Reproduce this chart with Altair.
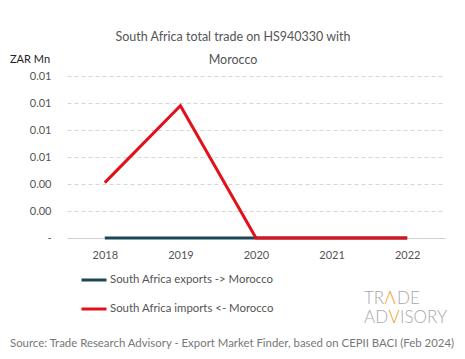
import altair as alt
import pandas as pd

years = ["2018", "2019", "2020", "2021", "2022"]
exports = [0, 0, 0, 0, 0]
imports = [0.0041, 0.0098, 0, 0, 0]
series_names = ["South Africa exports -> Morocco", "South Africa imports <- Morocco"]
colors = ["#1d4659", "#e3101b"]
y_ticks = [0, 0.002, 0.004, 0.006, 0.008, 0.010, 0.012]

rows = []
for y, e, i in zip(years, exports, imports):
    rows.append({"year": y, "series": series_names[0], "value": e, "order": 0})
    rows.append({"year": y, "series": series_names[1], "value": i, "order": 1})
df = pd.DataFrame(rows)

FONT = "Lato"
one = pd.DataFrame({"a": [0]})

lines = alt.Chart(df).mark_line(strokeWidth=3).encode(
    x=alt.X("year:N", sort=years, title=None,
            scale=alt.Scale(type="point", padding=0.5),
            axis=alt.Axis(labelAngle=0, ticks=False, domain=True, domainColor="#d0d0d0",
                          grid=False, labelPadding=11, labelFontSize=11,
                          labelColor="#555555", labelFont=FONT)),
    y=alt.Y("value:Q", title=None,
            scale=alt.Scale(domain=[0, 0.012], nice=False, zero=True),
            axis=alt.Axis(values=y_ticks, labelExpr="datum.value == 0 ? '-' : format(datum.value, '.2f')",
                          domain=False, ticks=False, grid=True, gridDash=[4, 3],
                          gridColor="#d6d6d6", labelPadding=16, labelFontSize=11,
                          labelColor="#555555", labelFont=FONT)),
    color=alt.Color("series:N", sort=series_names,
                    scale=alt.Scale(domain=series_names, range=colors),
                    legend=alt.Legend(title=None, orient="none", legendX=13, legendY=190,
                                      direction="vertical", symbolType="stroke",
                                      symbolSize=625, symbolStrokeWidth=3,
                                      rowPadding=9, labelFontSize=11.4, labelFont=FONT,
                                      labelColor="#555555", labelOffset=2, labelLimit=400)),
    order=alt.Order("order:Q"),
    detail="series:N",
)

def txt(s, x, y, size=11, color="#555555", align="left", weight="normal", font=FONT):
    return alt.Chart(one).mark_text(text=s, align=align, baseline="middle", fontSize=size,
                                    color=color, fontWeight=weight, font=font).encode(
        x=alt.value(x), y=alt.value(y))

GRAY = "#a9a9a9"
ORANGE = "#f0a020"
title1 = txt("South Africa total trade on HS940330 with", 166, -39, size=12.5, align="center")
title2 = txt("Morocco", 166, -16, size=12.5, align="center")
unit = txt("ZAR Mn", -57, -16, size=11, color="#222222")
source = txt("Source: Trade Research Advisory - Export Market Finder, based on CEPII BACI (Feb 2024)",
             -57, 268, size=11.4, color="#777777")
wm = [
    txt("TR", 297, 223, size=17, color=GRAY, weight=300),
    txt("Λ", 323, 223, size=17, color=ORANGE, weight=300, align="center"),
    txt("DE", 330, 223, size=17, color=GRAY, weight=300),
    txt("AD", 297, 242, size=17, color=GRAY, weight=300),
    txt("V", 327, 242, size=17, color=ORANGE, weight=300, align="center"),
    txt("ISORY", 333, 242, size=17, color=GRAY, weight=300),
]

chart = alt.layer(lines, title1, title2, unit, source, *wm).properties(
    width=378, height=162,
    autosize=alt.AutoSizeParams(type="none"),
    padding={"left": 59, "top": 68, "right": 12, "bottom": 113},
).configure_view(stroke=None)

chart.save("out.html", embed_options={"renderer": "svg", "actions": False})
